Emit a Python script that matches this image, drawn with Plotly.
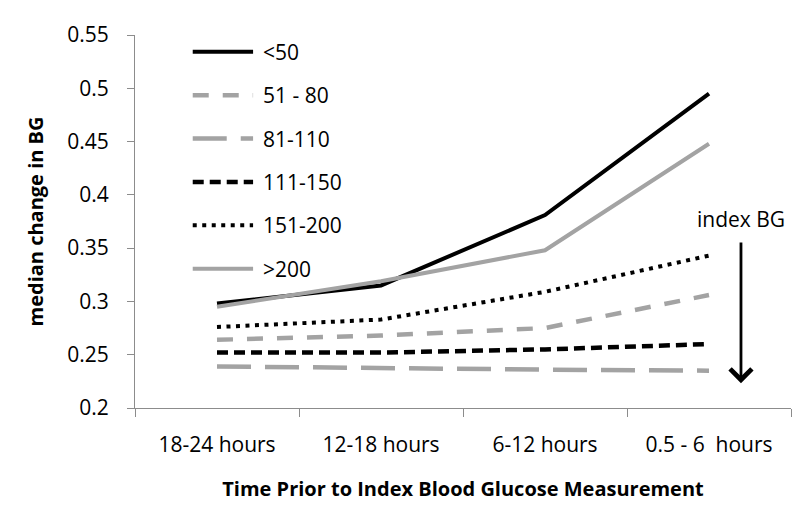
import plotly.graph_objects as go

categories = ["18-24 hours", "12-18 hours", "6-12 hours", "0.5 - 6  hours"]
series_names = ["<50", "51 - 80", "81-110", "111-150", "151-200", ">200"]
lt50 = [0.298, 0.315, 0.381, 0.495]
s51_80 = [0.264, 0.268, 0.275, 0.306]
s81_110 = [0.239, 0.237, 0.236, 0.235]
s111_150 = [0.252, 0.252, 0.255, 0.260]
s151_200 = [0.276, 0.283, 0.309, 0.343]
gt200 = [0.295, 0.319, 0.348, 0.448]
series_values = [lt50, s51_80, s81_110, s111_150, s151_200, gt200]

GRAY = "#a3a3a3"
styles = [
    dict(color="black", width=4, dash="solid"),
    dict(color=GRAY, width=4.5, dash="16px,14px"),
    dict(color=GRAY, width=4.5, dash="34px,14px"),
    dict(color="black", width=4.5, dash="11px,6px"),
    dict(color="black", width=4, dash="4px,5.5px"),
    dict(color=GRAY, width=4, dash="solid"),
]

FONT = "Open Sans"
fig = go.Figure()
for name, vals, st in zip(series_names, series_values, styles):
    fig.add_trace(go.Scatter(x=categories, y=vals, mode="lines", name=name,
                             line=st, showlegend=False, hoverinfo="x+y+name"))

# manual legend (long line samples like the original)
leg_x0, leg_x1, leg_tx = 0.088, 0.180, 0.192
leg_top, leg_step = 0.955, 0.1163
for i, (name, st) in enumerate(zip(series_names, styles)):
    yy = leg_top - i * leg_step
    fig.add_shape(type="line", xref="paper", yref="paper", x0=leg_x0, x1=leg_x1,
                  y0=yy, y1=yy, line=st)
    fig.add_annotation(xref="paper", yref="paper", x=leg_tx, y=yy, text=name,
                       showarrow=False, xanchor="left", yanchor="middle",
                       font=dict(family=FONT, size=21, color="black"))

# index BG arrow
fig.add_annotation(xref="x", yref="y", x=3.195, y=0.2233, ax=3.195, ay=0.3568,
                   axref="x", ayref="y", text="", showarrow=True,
                   arrowhead=4, arrowsize=1.5, arrowwidth=2.8, arrowcolor="black")
fig.add_annotation(xref="x", yref="y", x=3.195, y=0.3568, text="index BG",
                   showarrow=False, yanchor="bottom", yshift=6,
                   font=dict(family=FONT, size=21, color="black"))

fig.update_layout(
    width=800, height=509,
    margin=dict(l=127, r=17, t=25, b=109),
    paper_bgcolor="white", plot_bgcolor="white",
    font=dict(family=FONT, size=20, color="black"),
)
fig.update_xaxes(type="category", range=[-0.5, 3.5], showline=True, linecolor="#8c8c8c",
                 linewidth=1, showgrid=False, zeroline=False, ticks="outside",
                 tickson="boundaries", ticklen=8, tickcolor="#8c8c8c",
                 ticklabelstandoff=18, tickfont=dict(family=FONT, size=21),
                 title=dict(text="<b>Time Prior to Index Blood Glucose Measurement</b>",
                            font=dict(family=FONT, size=20), standoff=24))
fig.update_yaxes(range=[0.2, 0.55], dtick=0.05, tick0=0.2, showline=True,
                 linecolor="#8c8c8c", linewidth=1, showgrid=False, zeroline=False,
                 ticks="outside", ticklen=7, tickcolor="#8c8c8c",
                 ticklabelstandoff=14, tickfont=dict(family=FONT, size=21),
                 title=dict(text="<b>median change in BG</b>",
                            font=dict(family=FONT, size=20), standoff=18))

fig.write_html("out.html")
